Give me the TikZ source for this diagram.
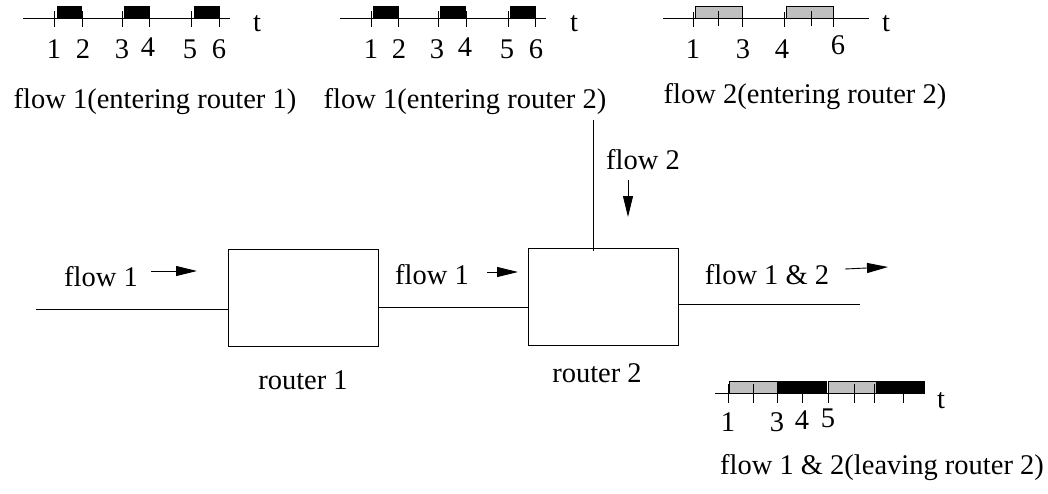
\documentclass[tikz,border=0pt]{standalone}
\usepackage{fontspec}
\setmainfont{Liberation Serif}
\usetikzlibrary{arrows.meta}
\begin{document}
\begin{tikzpicture}[x=1pt,y=-1pt,
  every node/.style={font=\fontsize{28.5}{32}\selectfont, inner sep=0pt},
  ln/.style={line width=0.9pt},
  router/.style={draw, line width=0.9pt, minimum width=150pt, minimum height=97pt},
  flowarrow/.style={line width=0.9pt, -{Triangle[length=21pt,width=10pt]}},
  blk/.style={fill=black, draw=black, line width=0.8pt},
  gry/.style={fill=black!25, draw=black, line width=0.8pt},
  tick/.style={line width=0.8pt},
  lab/.style={anchor=base}]
\useasboundingbox (0,0) rectangle (1048,493);

% ---------- timeline 1
\draw[ln] (23,18) -- (230,18);
\foreach \a/\b in {57/81,124/149,194/219}{\draw[blk] (\a,18) rectangle (\b,6);}
\foreach \x in {54,82,122,149,191,219}{\draw[tick] (\x,11) -- (\x,27);}
\node[lab] (t1a) at (54,58) {1};
\node[lab] (t1b) at (83,58) {2};
\node[lab] (t1c) at (122,58) {3};
\node[lab] (t1d) at (148,56) {4};
\node[lab] (t1e) at (190,58) {5};
\node[lab] (t1f) at (219,58) {6};
\node[lab] (t1t) at (257,31) {t};
\node[lab] (cap1) at (155,108) {flow 1(entering router 1)};

% ---------- timeline 2
\draw[ln] (340,18) -- (546,18);
\foreach \a/\b in {373/398,440/465,510/535}{\draw[blk] (\a,18) rectangle (\b,6);}
\foreach \x in {371,398,438,466,508,535}{\draw[tick] (\x,11) -- (\x,27);}
\node[lab] (t2a) at (371,58) {1};
\node[lab] (t2b) at (399,58) {2};
\node[lab] (t2c) at (437,58) {3};
\node[lab] (t2d) at (465,56) {4};
\node[lab] (t2e) at (507,58) {5};
\node[lab] (t2f) at (536,58) {6};
\node[lab] (t2t) at (574,31) {t};
\node[lab] (cap2) at (465,108) {flow 1(entering router 2)};

% ---------- timeline 3
\draw[ln] (663,18) -- (869,18);
\foreach \a/\b in {695/742,786/833}{\draw[gry] (\a,18) rectangle (\b,6);}
\foreach \x in {693,742,784,833}{\draw[tick] (\x,12) -- (\x,27);}
\foreach \x in {718,811}{\draw[tick] (\x,11) -- (\x,26);}
\node[lab] (t3a) at (693,58) {1};
\node[lab] (t3c) at (743,58) {3};
\node[lab] (t3d) at (782,58) {4};
\node[lab] (t3f) at (838,54) {6};
\node[lab] (t3t) at (886,31) {t};
\node[lab] (cap3) at (805,103) {flow 2(entering router 2)};

% ---------- timeline 4
\draw[ln] (715,393) -- (924,393);
\foreach \a/\b in {729/777,828/876}{\draw[gry] (\a,393) rectangle (\b,381);}
\foreach \a/\b in {777/826,876/924}{\draw[blk] (\a,393) rectangle (\b,381);}
\foreach \x in {728,753,777,802,828,854,874,903}{\draw[tick] (\x,384) -- (\x,403);}
\node[lab] (t4a) at (728,431) {1};
\node[lab] (t4c) at (777,431) {3};
\node[lab] (t4d) at (802,429) {4};
\node[lab] (t4e) at (828,427) {5};
\node[lab] (t4t) at (941,408) {t};
\node[lab] (cap4) at (882,474) {flow 1 \& 2(leaving router 2)};

% ---------- routers
\node[router] (r1) at (303,297.5) {};
\node[router] (r2) at (603,297) {};
\node[lab] (r1l) at (303,389) {router 1};
\node[lab] (r2l) at (597,382) {router 2};

\coordinate (inL) at (36,309);
\coordinate (outR) at (860,304);
\coordinate (topF) at (593,120);
\draw[ln] (inL) -- (inL -| r1.west);
\draw[ln] ([yshift=-10pt]r1.east) -- ([yshift=-10pt]r1.east -| r2.west);
\draw[ln] ([yshift=-7pt]r2.east) -- (outR);
\draw[ln] (topF) -- ([yshift=-3pt]topF |- r2.north);

% labels and arrows
\node[lab] (f1a) at (101,286) {flow 1};
\coordinate (a1s) at (151,271); \coordinate (a1e) at (197,271);
\draw[flowarrow] (a1s) -- (a1e);
\node[lab] (f1b) at (432,284) {flow 1};
\coordinate (a2s) at (487,272); \coordinate (a2e) at (518,272);
\draw[flowarrow] (a2s) -- (a2e);
\node[lab] (f2) at (643,169) {flow 2};
\coordinate (a3s) at (628,180); \coordinate (a3e) at (628,217);
\draw[flowarrow] (a3s) -- (a3e);
\node[lab] (f12) at (767,284) {flow 1 \& 2};
\coordinate (a4s) at (845,269); \coordinate (a4e) at (888,267);
\draw[flowarrow] (a4s) -- (a4e);
\end{tikzpicture}
\end{document}
